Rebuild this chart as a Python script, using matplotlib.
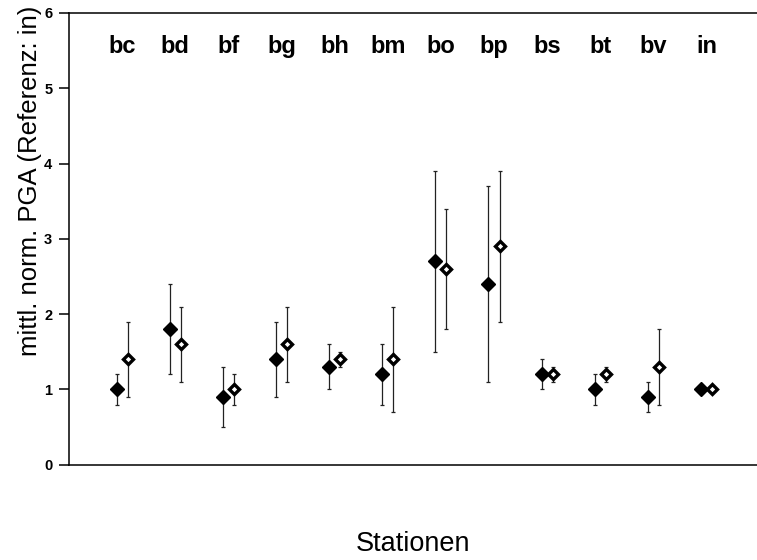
import matplotlib
matplotlib.use("Agg")
import matplotlib.pyplot as plt
import numpy as np

plt.rcParams['font.family'] = ['Liberation Sans', 'DejaVu Sans']

stations = ['bc', 'bd', 'bf', 'bg', 'bh', 'bm', 'bo', 'bp', 'bs', 'bt', 'bv', 'in']

# filled diamonds: mean, lower, upper
filled_mean = [1.0, 1.8, 0.9, 1.4, 1.3, 1.2, 2.7, 2.4, 1.2, 1.0, 0.9, 1.0]
filled_low = [0.8, 1.2, 0.5, 0.9, 1.0, 0.8, 1.5, 1.1, 1.0, 0.8, 0.7, 1.0]
filled_high = [1.2, 2.4, 1.3, 1.9, 1.6, 1.6, 3.9, 3.7, 1.4, 1.2, 1.1, 1.0]

# open diamonds
open_mean = [1.4, 1.6, 1.0, 1.6, 1.4, 1.4, 2.6, 2.9, 1.2, 1.2, 1.3, 1.0]
open_low = [0.9, 1.1, 0.8, 1.1, 1.3, 0.7, 1.8, 1.9, 1.1, 1.1, 0.8, 1.0]
open_high = [1.9, 2.1, 1.2, 2.1, 1.5, 2.1, 3.4, 3.9, 1.3, 1.3, 1.8, 1.0]

x = np.arange(len(stations))
off = 0.105

fig = plt.figure(figsize=(7.57, 5.6), dpi=100)
ax = fig.add_axes([0.0911, 0.170, 0.9089, 0.807])

fm = np.array(filled_mean)
om = np.array(open_mean)
ferr = [fm - np.array(filled_low), np.array(filled_high) - fm]
oerr = [om - np.array(open_low), np.array(open_high) - om]

# error bars first, markers on top
for xx, yy, err in [(x - off, fm, ferr), (x + off, om, oerr)]:
    ax.errorbar(xx, yy, yerr=err, fmt='none', ecolor='#222222',
                elinewidth=0.9, capsize=1.6, capthick=0.9)

ax.plot(x - off, fm, 'D', color='black', ms=7, zorder=3)
ax.plot(x + off, om, 'D', ms=5.2, mfc='white', mec='black', mew=2.4, zorder=3)

for i, s in enumerate(stations):
    ax.text(x[i], 5.55, s, ha='center', va='center', fontsize=17, fontweight='bold')

ax.set_xlim(-1, 11.95)
ax.set_ylim(0, 6)
ax.set_yticks(range(7))
ax.set_xticks([])
ax.tick_params(axis='y', direction='out', length=7, width=1.1, labelsize=10.5, pad=5)
for lab in ax.get_yticklabels():
    lab.set_fontweight('bold')
ax.spines['right'].set_visible(False)
for sp in ['left', 'top', 'bottom']:
    ax.spines[sp].set_linewidth(1.1)

fig.text(0.040, 0.677, 'mittl. norm. PGA (Referenz: in)', rotation=90,
         ha='center', va='center', fontsize=18.5)
fig.text(0.545, 0.029, 'Stationen', ha='center', va='center', fontsize=19.5)

fig.savefig('out.png', dpi=100)
